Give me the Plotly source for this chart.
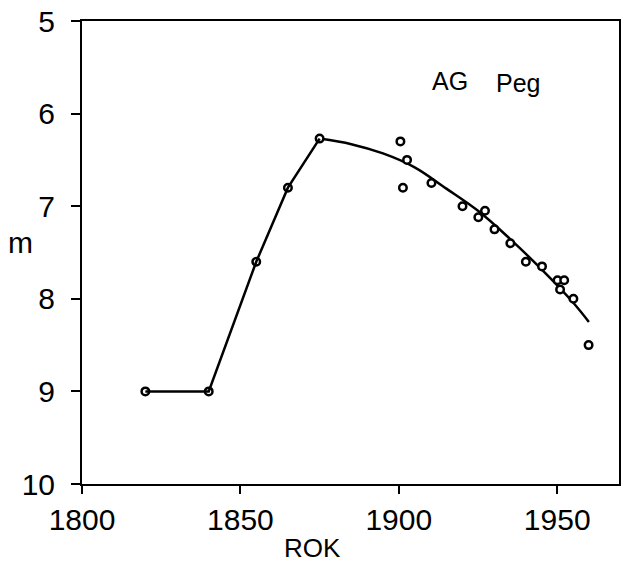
import plotly.graph_objects as go

# Early light curve (connected points)
early_year = [1820, 1840, 1855, 1865, 1875]
early_mag = [9.0, 9.0, 7.6, 6.8, 6.27]

# Later observations (open circles)
obs_year = [1900.5, 1902.6, 1901.3, 1910.3, 1920.1, 1925.1, 1927.2, 1930.2,
            1935.2, 1940.1, 1945.2, 1950.1, 1952.2, 1950.9, 1955.1, 1959.9]
obs_mag = [6.30, 6.50, 6.80, 6.75, 7.00, 7.12, 7.05, 7.25,
           7.40, 7.60, 7.65, 7.80, 7.80, 7.90, 8.00, 8.50]

# Smooth fitted curve
fit_year = [1875, 1885, 1895, 1905, 1915, 1925, 1935, 1945, 1955, 1960]
fit_mag = [6.27, 6.33, 6.43, 6.58, 6.81, 7.05, 7.35, 7.68, 8.04, 8.25]

x_ticks = [1800, 1850, 1900, 1950]
y_ticks = [5, 6, 7, 8, 9, 10]

FONT = "Liberation Sans, Arial, sans-serif"
L, R, T, B = 82, 3, 21, 78
PW, PH = 622 - L - R, 562 - T - B


def px(xp):
    return (xp - L) / PW


def py(yp):
    return (562 - B - yp) / PH


fig = go.Figure()
fig.add_trace(go.Scatter(x=fit_year, y=fit_mag, mode="lines",
                         line=dict(color="black", width=2.5, shape="spline"),
                         hoverinfo="skip"))
fig.add_trace(go.Scatter(x=early_year, y=early_mag, mode="markers",
                         marker=dict(symbol="circle", size=7.5, color="white",
                                     line=dict(color="black", width=2.5))))
fig.add_trace(go.Scatter(x=early_year, y=early_mag, mode="lines",
                         line=dict(color="black", width=2.5)))
fig.add_trace(go.Scatter(x=obs_year, y=obs_mag, mode="markers",
                         marker=dict(symbol="circle", size=7.5, color="white",
                                     line=dict(color="black", width=2.5))))

fig.update_layout(
    width=622, height=562,
    margin=dict(l=L, r=R, t=T, b=B, autoexpand=False),
    plot_bgcolor="white", paper_bgcolor="white",
    showlegend=False,
    font=dict(family=FONT, color="black", size=30),
    xaxis=dict(range=[1800, 1969.5], tickvals=x_ticks, ticks="outside",
               ticklen=8, tickwidth=2, tickcolor="black", automargin=False,
               showline=True, linecolor="black", linewidth=2, mirror=True,
               showgrid=False, zeroline=False,
               tickfont=dict(size=30, family=FONT)),
    yaxis=dict(range=[10, 5], tickvals=y_ticks, ticks="outside",
               ticklen=9, tickwidth=2, tickcolor="black", automargin=False,
               ticklabelstandoff=10,
               showline=True, linecolor="black", linewidth=2, mirror=True,
               showgrid=False, zeroline=False,
               tickfont=dict(size=30, family=FONT)),
    annotations=[
        dict(text="ROK", xref="paper", yref="paper", x=px(312),
             y=py(548), xanchor="center", yanchor="middle",
             showarrow=False, font=dict(size=26, family=FONT)),
        dict(text="m", xref="paper", yref="paper", x=px(20),
             y=py(242), xanchor="center", yanchor="middle",
             showarrow=False, font=dict(size=30, family=FONT)),
        dict(text="AG", xref="paper", yref="paper", x=px(450),
             y=py(81), xanchor="center", yanchor="middle",
             showarrow=False, font=dict(size=25, family=FONT)),
        dict(text="Peg", xref="paper", yref="paper", x=px(518),
             y=py(83), xanchor="center", yanchor="middle",
             showarrow=False, font=dict(size=25, family=FONT)),
    ],
)

fig.write_html(
    "out.html",
    config={"displayModeBar": False},
    post_script="document.body.style.margin='0';document.body.style.overflow='hidden';",
)
